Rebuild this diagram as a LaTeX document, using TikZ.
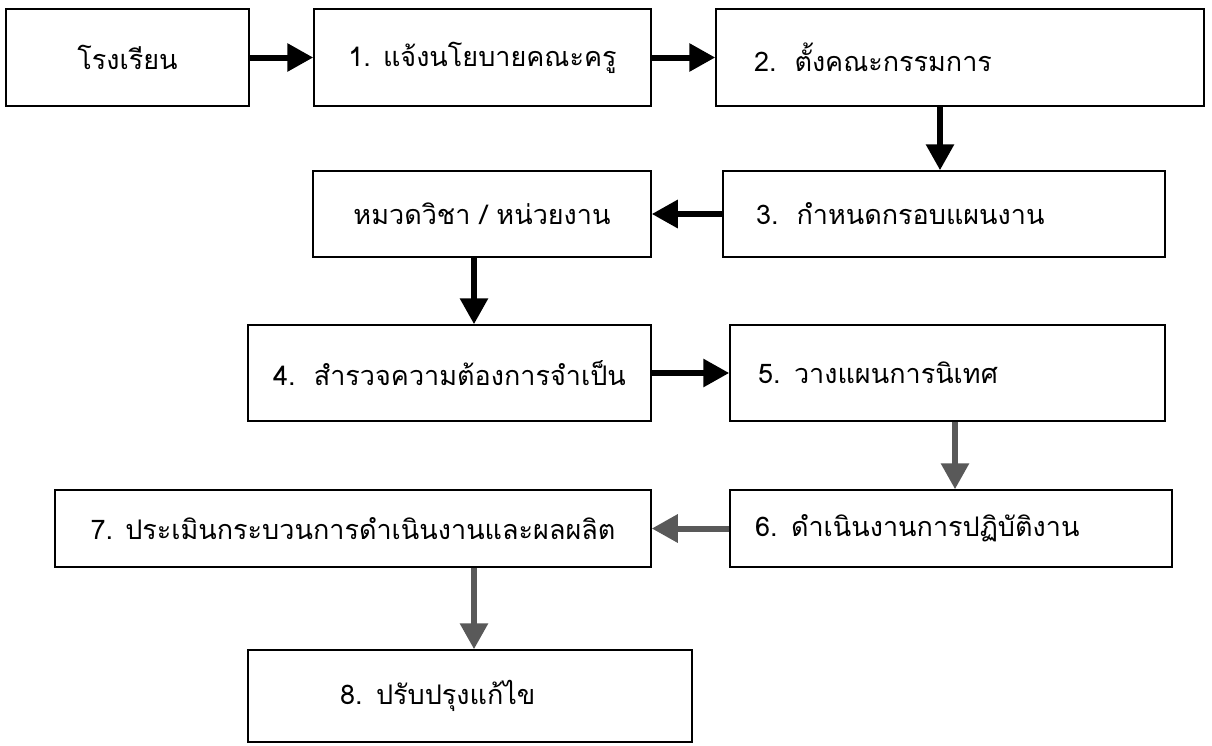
\documentclass[tikz,border=0pt]{standalone}
\usepackage{fontspec}
\newfontfamily\thaifont[Script=Thai]{Loma}
\usetikzlibrary{arrows.meta}
\begin{document}
\begin{tikzpicture}[x=1pt,y=-1pt,
  box/.style={draw=black,line width=1.5pt,inner ysep=0pt,inner xsep=0pt,
    font=\thaifont\fontsize{27}{31}\selectfont,text=black,fill=white},
  flow/.style={line width=6pt,draw=black,-{Triangle[length=26pt,width=27pt]}},
  flowgrey/.style={flow,draw=black!65,fill=black!65}]
\useasboundingbox (0,0) rectangle (1212,745);
\fill[white] (0,0) rectangle (1212,745);
% row 1
\node[box,minimum width=243pt,minimum height=97pt] (A) at (127.5,57.5) {โรงเรียน};
\node[box,minimum width=337pt,minimum height=97pt] (B1) at (482.5,57.5) {1. แจ้งนโยบายคณะครู};
\node[box,minimum height=97pt,text width=412pt,inner xsep=38pt,align=left] (B2) at (960,57.5) {2.\ \ ตั้งคณะกรรมการ};
% row 2
\node[box,minimum width=338pt,minimum height=86pt] (H) at (482,214) {หมวดวิชา / หน่วยงาน};
\node[box,minimum height=86pt,text width=376pt,inner xsep=33pt,align=left] (B3) at (944,214) {3.\ \ กำหนดกรอบแผนงาน};
% row 3
\node[box,minimum width=403pt,minimum height=96pt] (B4) at (449.5,373) {4.\ \ สำรวจความต้องการจำเป็น};
\node[box,minimum height=96pt,text width=379pt,inner xsep=28pt,align=left] (B5) at (947.5,373) {5. วางแผนการนิเทศ};
% row 4
\node[box,minimum width=596pt,minimum height=77pt] (B7) at (353,528.5) {7. ประเมินกระบวนการดำเนินงานและผลผลิต};
\node[box,minimum height=77pt,text width=392pt,inner xsep=25pt,align=left] (B6) at (951,528.5) {6. ดำเนินงานการปฏิบัติงาน};
% row 5
\node[box,minimum height=92pt,text width=260pt,inner xsep=92pt,align=left] (B8) at (470,696) {8. ปรับปรุงแก้ไข};
% guide coordinates for vertical connectors
\coordinate (x23) at (940,0);
\coordinate (xH4) at (474,0);
\coordinate (x56) at (955,0);
\coordinate (x78) at (474,0);
% connectors
\draw[flow] (A.east) -- (B1.west);
\draw[flow] (B1.east) -- (B2.west);
\draw[flow] (B2.south -| x23) -- (B3.north -| x23);
\draw[flow] (B3.west) -- (H.east);
\draw[flow] (H.south -| xH4) -- (B4.north -| xH4);
\draw[flow] (B4.east) -- (B5.west);
\draw[flowgrey] (B5.south -| x56) -- (B6.north -| x56);
\draw[flowgrey] (B6.west) -- (B7.east);
\draw[flowgrey] (B7.south -| x78) -- (B8.north -| x78);
\end{tikzpicture}
\end{document}
